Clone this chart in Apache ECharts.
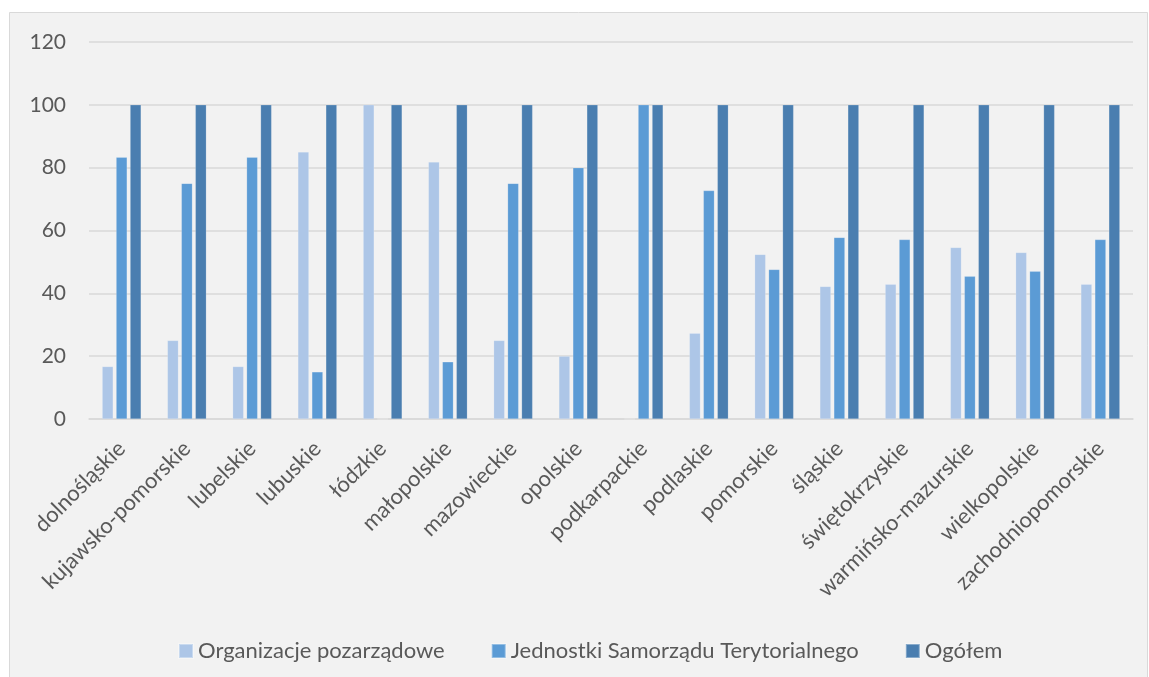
<!DOCTYPE html>
<html><head><meta charset="utf-8">
<script src="https://cdn.jsdelivr.net/npm/echarts@6/dist/echarts.min.js"></script>
<style>html,body{margin:0;padding:0;background:#fff}#c{width:1149px;height:677px}</style>
</head><body><div id="c"></div>
<script>
const categories = ["dolnośląskie","kujawsko-pomorskie","lubelskie","lubuskie","łódzkie","małopolskie","mazowieckie","opolskie","podkarpackie","podlaskie","pomorskie","śląskie","świętokrzyskie","warmińsko-mazurskie","wielkopolskie","zachodniopomorskie"];
const seriesNames = ["Organizacje pozarządowe","Jednostki Samorządu Terytorialnego","Ogółem"];
const ngo = [16.7,25,16.7,85,100,81.8,25,20,0,27.3,52.4,42.2,42.9,54.6,53,42.9];
const jst = [83.3,75,83.3,15,0,18.2,75,80,100,72.7,47.6,57.8,57.1,45.4,47,57.1];
const total = [100,100,100,100,100,100,100,100,100,100,100,100,100,100,100,100];
const yTicks = [0,20,40,60,80,100,120];
const colors = ["#adc6e7","#5b9bd5","#4a7eb0"];
const font = "Lato, 'Open Sans', sans-serif";
const chart = echarts.init(document.getElementById('c'), null, {renderer:'canvas'});
const mk = (name, data, color) => ({
  name, type:'bar', data, barWidth:11, barGap:'27%',
  itemStyle:{color, borderColor:'rgba(255,255,255,0.35)', borderWidth:0.5}
});
chart.setOption({
  backgroundColor:'#ffffff',
  animation:false,
  color: colors,
  graphic:[{type:'rect', z:-10, silent:true, shape:{x:9.5,y:12.5,width:1138,height:670},
    style:{fill:'#f2f2f2', stroke:'#d9d9d9', lineWidth:1}}],
  grid:{left:89, right:16, top:42, bottom:258, containLabel:false},
  legend:{top:635, left:173, itemWidth:14, itemHeight:14, itemGap:46, icon:'rect',
    textStyle:{fontFamily:font, fontSize:22, color:'#595959', padding:[0,0,0,0]}, data:seriesNames},
  xAxis:{type:'category', data:categories,
    axisLine:{show:true, lineStyle:{color:'#d9d9d9', width:1.5}},
    axisTick:{show:false},
    axisLabel:{rotate:45, interval:0, fontFamily:font, fontSize:22, color:'#595959', margin:26}},
  yAxis:{type:'value', min:0, max:120, interval:20,
    axisLine:{show:false}, axisTick:{show:false},
    splitLine:{lineStyle:{color:'#d9d9d9', width:1.5}},
    axisLabel:{fontFamily:font, fontSize:21, color:'#595959', margin:23,
      formatter:v => yTicks.includes(v) ? String(v) : ''}},
  series:[mk(seriesNames[0], ngo, colors[0]), mk(seriesNames[1], jst, colors[1]), mk(seriesNames[2], total, colors[2])]
});
</script></body></html>
